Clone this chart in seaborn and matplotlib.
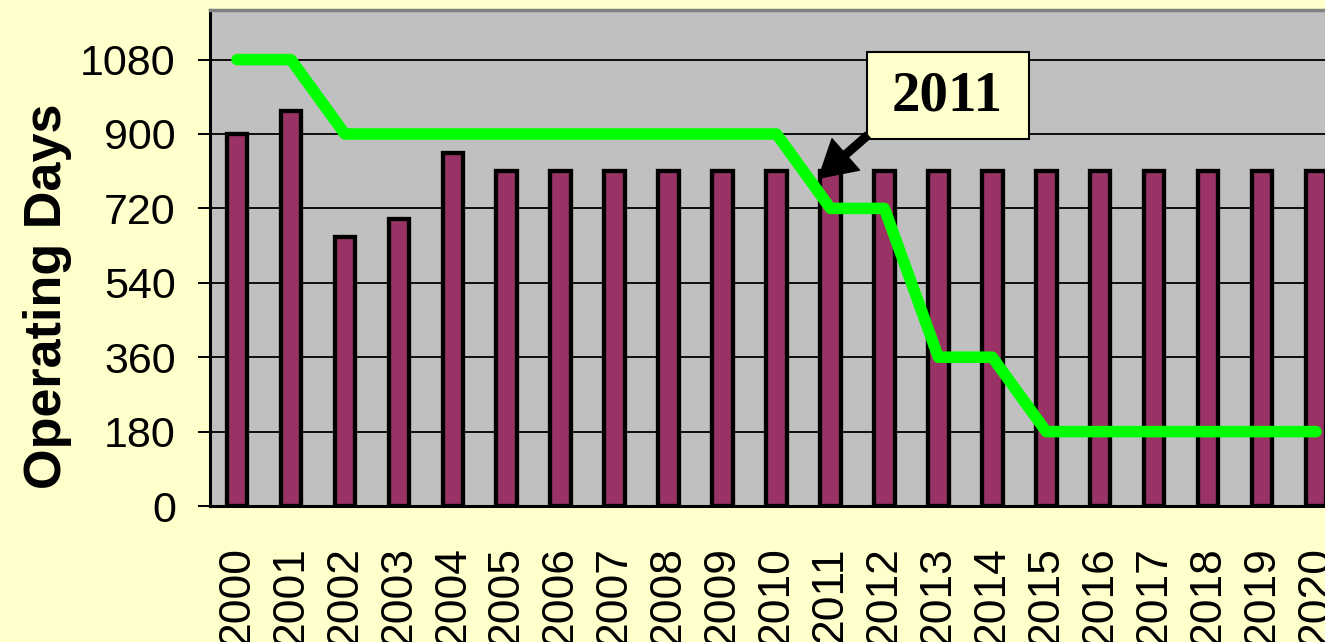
import matplotlib
matplotlib.use("Agg")
import matplotlib.pyplot as plt
from matplotlib.patches import Rectangle
import seaborn as sns
import pandas as pd
import numpy as np

# ---- data ----
years = [str(y) for y in range(2000, 2021)]
operating_days = [900, 955, 650, 695, 855] + [810] * 16
limit_days = [1080, 1080] + [900] * 9 + [720, 720, 360, 360] + [180] * 6
y_ticks = [0, 180, 360, 540, 720, 900, 1080]
ylabel = "Operating Days"
callout = "2011"

# ---- style ----
BG = "#FFFFCC"
PLOT_BG = "#C0C0C0"
BAR = "#993366"
LINE = "#00FF00"

sns.set_theme(style="white")
plt.rcParams["font.family"] = ["Liberation Sans", "DejaVu Sans"]

df = pd.DataFrame({"year": years, "days": operating_days, "limit": limit_days})

fig = plt.figure(figsize=(13.25, 6.42), dpi=100, facecolor=BG)
ax = fig.add_axes([210 / 1325, 136 / 642, 1133 / 1325, 496 / 642])
ax.set_facecolor(PLOT_BG)

sns.barplot(data=df, x="year", y="days", color=BAR, width=0.38,
            edgecolor="black", linewidth=3.1, saturation=1, ax=ax, zorder=2)
sns.pointplot(data=df, x="year", y="limit", color=LINE, markers="",
              linestyles="-", linewidth=8.3, ax=ax, zorder=3)
for ln in ax.lines:
    ln.set_solid_capstyle("round")
    ln.set_solid_joinstyle("round")
    ln.set_zorder(3)

n = len(years)
ax.set_xlim(-0.5, n - 0.5)
ax.set_ylim(0, 1200)
ax.set_yticks(y_ticks)
ax.set_yticklabels([str(v) for v in y_ticks])
ax.set_xticks(range(n))
ax.set_xticklabels(years, rotation=90)
ax.set_xticks(np.arange(n + 1) - 0.5, minor=True)

ax.yaxis.grid(True, color="black", linewidth=1.3)
ax.xaxis.grid(False)
ax.set_axisbelow(True)

ax.tick_params(axis="x", which="major", length=0, pad=29, labelsize=32, colors="black")
ax.tick_params(axis="x", which="minor", direction="inout", length=21, width=1.4, color="black")
ax.tick_params(axis="y", which="major", direction="out", length=8.6, width=1.4,
               pad=16, labelsize=31, colors="black", left=True)

for side in ["left", "bottom"]:
    ax.spines[side].set_color("black")
    ax.spines[side].set_linewidth(2.2)
ax.spines["top"].set_color("#808080")
ax.spines["top"].set_linewidth(2.5)
ax.spines["right"].set_visible(False)

ax.set_xlabel("")
ax.set_ylabel(ylabel, fontsize=37.5, fontweight="bold", color="black")
ax.yaxis.set_label_coords(-0.1215, 0.423)

# callout box with arrow
ax.add_patch(Rectangle((11.67, 887), 3.01, 211, facecolor=BG, edgecolor="black",
                       linewidth=1.5, zorder=6))
ax.text(13.17, 990, callout, ha="center", va="center", fontsize=41, fontweight="bold",
        family=["Liberation Serif", "DejaVu Serif"], color="black", zorder=7)
ax.annotate("", xy=(10.78, 793), xytext=(11.69, 897),
            arrowprops=dict(facecolor="black", edgecolor="black", width=5.5,
                            headwidth=30, headlength=26, shrink=0),
            zorder=7)

fig.savefig("out.png", dpi=100, facecolor=BG)
